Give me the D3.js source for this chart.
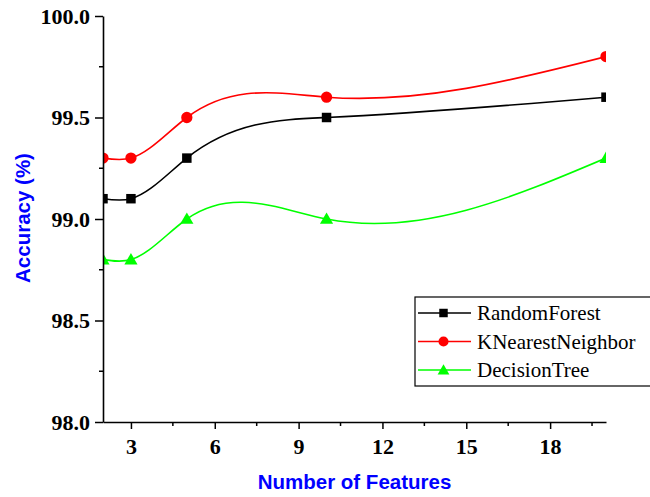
<!DOCTYPE html>
<html>
<head>
<meta charset="utf-8">
<script src="https://cdn.jsdelivr.net/npm/d3@7"></script>
<style>
  body { margin: 0; background: #fff; }
  svg { display: block; }
</style>
</head>
<body>
<div id="chart"></div>
<script>
// data
var features = [2, 3, 5, 10, 20];
var randomForest = [99.1, 99.1, 99.3, 99.5, 99.6];
var kNearest = [99.3, 99.3, 99.5, 99.6, 99.8];
var decisionTree = [98.8, 98.8, 99.0, 99.0, 99.3];
var seriesNames = ["RandomForest", "KNearestNeighbor", "DecisionTree"];
var xTicks = [3, 6, 9, 12, 15, 18];
var yTicks = [98.0, 98.5, 99.0, 99.5, 100.0];

var width = 650, height = 497;
var margin = { left: 103, right: 44, top: 16, bottom: 75 };
var serifFont = "Liberation Serif";
var sansFont = "Liberation Sans";

var svg = d3.select("#chart").append("svg")
    .attr("width", width)
    .attr("height", height);

var x = d3.scaleLinear().domain([2, 20]).range([margin.left, width - margin.right]);
var y = d3.scaleLinear().domain([98, 100]).range([height - margin.bottom, margin.top]);

// natural cubic spline in x (like origin's spline connect)
function SplineX(context) { this._context = context; }
SplineX.prototype = {
    areaStart: function () { this._line = 0; },
    areaEnd: function () { this._line = NaN; },
    lineStart: function () { this._x = []; this._y = []; },
    point: function (px, py) { this._x.push(+px); this._y.push(+py); },
    lineEnd: function () {
        var xs = this._x, ys = this._y, n = xs.length - 1, ctx = this._context;
        if (n < 0) return;
        ctx.moveTo(xs[0], ys[0]);
        if (n === 0) return;
        var h = [], i;
        for (i = 0; i < n; i++) h.push(xs[i + 1] - xs[i]);
        // second derivatives, natural ends
        var M = new Array(n + 1).fill(0);
        if (n > 1) {
            var a = [], b = [], c = [], r = [];
            for (i = 1; i < n; i++) {
                a.push(h[i - 1]);
                b.push(2 * (h[i - 1] + h[i]));
                c.push(h[i]);
                r.push(6 * ((ys[i + 1] - ys[i]) / h[i] - (ys[i] - ys[i - 1]) / h[i - 1]));
            }
            var m = b.length;
            for (i = 1; i < m; i++) {
                var w = a[i] / b[i - 1];
                b[i] -= w * c[i - 1];
                r[i] -= w * r[i - 1];
            }
            var sol = new Array(m);
            sol[m - 1] = r[m - 1] / b[m - 1];
            for (i = m - 2; i >= 0; i--) sol[i] = (r[i] - c[i] * sol[i + 1]) / b[i];
            for (i = 1; i < n; i++) M[i] = sol[i - 1];
        }
        for (i = 0; i < n; i++) {
            var s = (ys[i + 1] - ys[i]) / h[i];
            var d0 = s - h[i] * (2 * M[i] + M[i + 1]) / 6;
            var d1 = s + h[i] * (M[i] + 2 * M[i + 1]) / 6;
            ctx.bezierCurveTo(
                xs[i] + h[i] / 3, ys[i] + d0 * h[i] / 3,
                xs[i + 1] - h[i] / 3, ys[i + 1] - d1 * h[i] / 3,
                xs[i + 1], ys[i + 1]);
        }
    }
};
function curveSplineX(context) { return new SplineX(context); }

var series = [
    { name: seriesNames[0], values: randomForest, color: "#000000", symbol: d3.symbolSquare, size: 90 },
    { name: seriesNames[1], values: kNearest, color: "#ff0000", symbol: d3.symbolCircle, size: 100 },
    { name: seriesNames[2], values: decisionTree, color: "#00ff00", symbol: d3.symbolTriangle, size: 75 }
];

svg.append("clipPath").attr("id", "plotclip")
    .append("rect")
    .attr("x", margin.left)
    .attr("y", margin.top - 10)
    .attr("width", width - margin.left - margin.right)
    .attr("height", height - margin.top - margin.bottom + 10);

var plot = svg.append("g").attr("clip-path", "url(#plotclip)");

var line = d3.line()
    .x(function (d, i) { return x(features[i]); })
    .y(function (d) { return y(d); })
    .curve(curveSplineX);

series.forEach(function (s) {
    plot.append("path")
        .attr("d", line(s.values))
        .attr("fill", "none")
        .attr("stroke", s.color)
        .attr("stroke-width", 1.6);

    plot.selectAll(null)
        .data(s.values)
        .enter()
        .append("path")
        .attr("d", d3.symbol().type(s.symbol).size(s.size))
        .attr("transform", function (d, i) {
            var dy = s.symbol === d3.symbolTriangle ? 1 : 0;
            return "translate(" + x(features[i]) + "," + (y(d) + dy) + ")";
        })
        .attr("fill", s.color);
});

// axes
var xAxis = svg.append("g")
    .attr("transform", "translate(0," + y(98) + ")")
    .call(d3.axisBottom(x).tickValues(xTicks).tickSize(7).tickSizeOuter(0).tickFormat(d3.format("d")).tickPadding(9));
xAxis.append("g").selectAll("line")
    .data([4.5, 7.5, 10.5, 13.5, 16.5, 19.5])
    .enter().append("line")
    .attr("x1", function (d) { return x(d); })
    .attr("x2", function (d) { return x(d); })
    .attr("y1", 0).attr("y2", 4)
    .attr("stroke", "#000").attr("stroke-width", 1.5);

var yAxis = svg.append("g")
    .attr("transform", "translate(" + x(2) + ",0)")
    .call(d3.axisLeft(y).tickValues(yTicks).tickSize(8).tickSizeOuter(0).tickFormat(d3.format(".1f")).tickPadding(5));
yAxis.append("g").selectAll("line")
    .data([98.25, 98.75, 99.25, 99.75])
    .enter().append("line")
    .attr("y1", function (d) { return y(d); })
    .attr("y2", function (d) { return y(d); })
    .attr("x1", 0).attr("x2", -4)
    .attr("stroke", "#000").attr("stroke-width", 1.5);

[xAxis, yAxis].forEach(function (ax) {
    ax.attr("font-family", serifFont).attr("font-size", 22).attr("font-weight", "bold");
    ax.select(".domain").attr("stroke", "#000").attr("stroke-width", 1.6);
    ax.selectAll(".tick line").attr("stroke", "#000").attr("stroke-width", 1.5);
    ax.selectAll(".tick text").attr("fill", "#000");
});

// axis titles
svg.append("text")
    .attr("x", (x(2) + x(20)) / 2)
    .attr("y", 489)
    .attr("text-anchor", "middle")
    .attr("font-family", sansFont)
    .attr("font-weight", "bold")
    .attr("font-size", 20.5)
    .attr("fill", "#0000ff")
    .text("Number of Features");

svg.append("text")
    .attr("transform", "translate(30," + 218 + ") rotate(-90)")
    .attr("text-anchor", "middle")
    .attr("font-family", sansFont)
    .attr("font-weight", "bold")
    .attr("font-size", 20.5)
    .attr("fill", "#0000ff")
    .text("Accuracy (%)");

// legend
var legend = svg.append("g").attr("transform", "translate(415,297)");
legend.append("rect")
    .attr("width", 240).attr("height", 89)
    .attr("fill", "#fff").attr("stroke", "#000").attr("stroke-width", 1.2);

var rows = legend.selectAll(".row")
    .data(series)
    .enter().append("g")
    .attr("transform", function (d, i) { return "translate(0," + (16 + i * 28.5) + ")"; });
rows.append("line")
    .attr("x1", 3).attr("x2", 56)
    .attr("stroke", function (d) { return d.color; })
    .attr("stroke-width", 1.6);
rows.append("path")
    .attr("d", function (d) { return d3.symbol().type(d.symbol).size(d.size * 0.8)(); })
    .attr("transform", function (d) { return "translate(28.5," + (d.symbol === d3.symbolTriangle ? 1 : 0) + ")"; })
    .attr("fill", function (d) { return d.color; });
rows.append("text")
    .attr("x", 62)
    .attr("y", 7)
    .attr("font-family", serifFont)
    .attr("font-size", 21)
    .attr("fill", "#000")
    .text(function (d) { return d.name; });
</script>
</body>
</html>
